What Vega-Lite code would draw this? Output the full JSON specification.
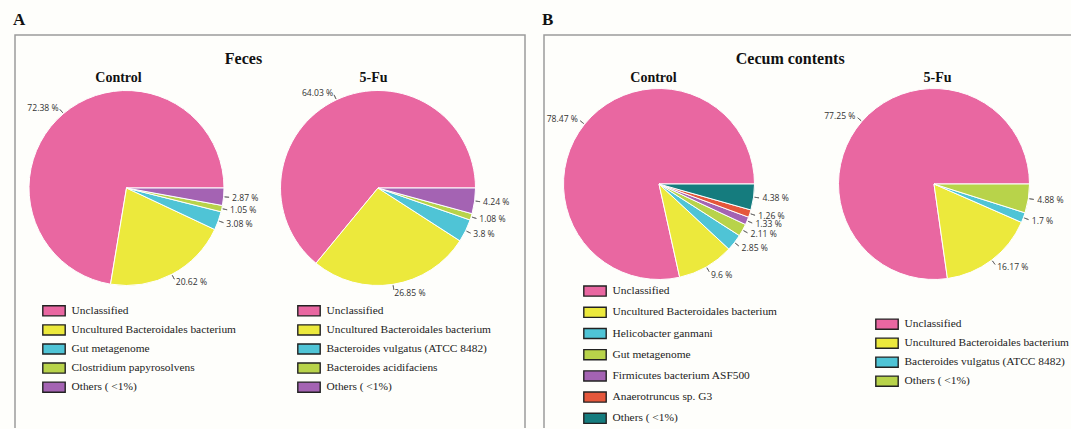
{
  "$schema": "https://vega.github.io/schema/vega-lite/v6.json",
  "background": "#fefefb",
  "padding": {"left": 12, "top": 10, "right": 0, "bottom": 0},
  "spacing": 15,
  "data": {
    "values": [
      {"sample": "Feces", "group": "Control", "taxon": "Unclassified", "pct": 72.38},
      {"sample": "Feces", "group": "Control", "taxon": "Uncultured Bacteroidales bacterium", "pct": 20.62},
      {"sample": "Feces", "group": "Control", "taxon": "Gut metagenome", "pct": 3.08},
      {"sample": "Feces", "group": "Control", "taxon": "Clostridium papyrosolvens", "pct": 1.05},
      {"sample": "Feces", "group": "Control", "taxon": "Others ( <1%)", "pct": 2.87},
      {"sample": "Feces", "group": "5-Fu", "taxon": "Unclassified", "pct": 64.03},
      {"sample": "Feces", "group": "5-Fu", "taxon": "Uncultured Bacteroidales bacterium", "pct": 26.85},
      {"sample": "Feces", "group": "5-Fu", "taxon": "Bacteroides vulgatus (ATCC 8482)", "pct": 3.8},
      {"sample": "Feces", "group": "5-Fu", "taxon": "Bacteroides acidifaciens", "pct": 1.08},
      {"sample": "Feces", "group": "5-Fu", "taxon": "Others ( <1%)", "pct": 4.24},
      {"sample": "Cecum contents", "group": "Control", "taxon": "Unclassified", "pct": 78.47},
      {"sample": "Cecum contents", "group": "Control", "taxon": "Uncultured Bacteroidales bacterium", "pct": 9.6},
      {"sample": "Cecum contents", "group": "Control", "taxon": "Helicobacter ganmani", "pct": 2.85},
      {"sample": "Cecum contents", "group": "Control", "taxon": "Gut metagenome", "pct": 2.11},
      {"sample": "Cecum contents", "group": "Control", "taxon": "Firmicutes bacterium ASF500", "pct": 1.33},
      {"sample": "Cecum contents", "group": "Control", "taxon": "Anaerotruncus sp. G3", "pct": 1.26},
      {"sample": "Cecum contents", "group": "Control", "taxon": "Others ( <1%)", "pct": 4.38},
      {"sample": "Cecum contents", "group": "5-Fu", "taxon": "Unclassified", "pct": 77.25},
      {"sample": "Cecum contents", "group": "5-Fu", "taxon": "Uncultured Bacteroidales bacterium", "pct": 16.17},
      {"sample": "Cecum contents", "group": "5-Fu", "taxon": "Bacteroides vulgatus (ATCC 8482)", "pct": 1.7},
      {"sample": "Cecum contents", "group": "5-Fu", "taxon": "Others ( <1%)", "pct": 4.88}
    ]
  },
  "resolve": {"scale": {"color": "independent", "theta": "independent"}},
  "hconcat": [
    {
      "width": 510,
      "height": 393,
      "title": {"text": "A"},
      "view": {"stroke": "#9c9c9c", "strokeWidth": 1.5, "strokeDash": [903, 510, 393]},
      "resolve": {"scale": {"color": "independent", "theta": "independent"}},
      "encoding": {
        "x": {
          "field": "group", "type": "nominal",
          "scale": {"type": "point", "domain": ["Control", "5-Fu"], "range": [111.5, 363], "padding": 0},
          "axis": {"orient": "top", "title": "Feces", "titleX": 228,
                   "labelOffset": {"condition": {"test": "datum.value === 'Control'", "value": -8.5}, "value": -5}}
        },
        "y": {"field": "sample", "type": "nominal", "scale": {"type": "point", "range": [0, 306]}, "axis": null}
      },
      "layer": [
        {
          "transform": [{"filter": "datum.sample === 'Feces' && datum.group === 'Control'"}, {"window": [{"op": "row_number", "as": "idx"}]}],
          "mark": {"type": "arc", "radius": 97.5, "stroke": "#ffffff", "strokeWidth": 1},
          "encoding": {
            "theta": {"field": "pct", "type": "quantitative", "stack": true, "scale": {"domain": [0, 100], "range": [7.853981633974483, 1.5707963267948966]}},
            "order": {"field": "idx", "type": "quantitative"},
            "color": {
              "field": "taxon", "type": "nominal",
              "scale": {"domain": ["Unclassified", "Uncultured Bacteroidales bacterium", "Gut metagenome", "Clostridium papyrosolvens", "Others ( <1%)"],
                        "range": ["#e967a1", "#ece93c", "#4fc4d6", "#b8d34a", "#a463b3"]},
              "legend": {"legendX": 30, "legendY": 266.8, "rowPadding": 2.1}
            }
          }
        },
        {
          "transform": [{"filter": "datum.sample === 'Feces' && datum.group === 'Control'"}, {"window": [{"op": "row_number", "as": "idx"}]}],
          "mark": {"type": "arc", "radius": 103, "radius2": 98.5, "padAngle": 3.1416, "filled": false, "stroke": "#666666", "strokeWidth": 0.8},
          "encoding": {
            "theta": {"field": "pct", "type": "quantitative", "stack": true, "scale": {"domain": [0, 100], "range": [7.853981633974483, 1.5707963267948966]}},
            "order": {"field": "idx", "type": "quantitative"},
            "strokeOpacity": {"condition": {"test": "datum.taxon === 'Unclassified'", "value": 0}, "value": 1}
          }
        },
        {
          "transform": [{"filter": "datum.sample === 'Feces' && datum.group === 'Control' && datum.taxon === 'Unclassified'"}],
          "mark": {"type": "arc", "radius": 103, "radius2": 98.5, "filled": false, "stroke": "#666666", "strokeWidth": 0.8},
          "encoding": {
            "theta": {"field": "pct", "type": "quantitative", "stack": null, "scale": {"domain": [0, 200], "range": [7.853981633974483, 1.5707963267948966]}},
            "theta2": {"field": "pct"}
          }
        },
        {
          "transform": [{"filter": "datum.sample === 'Feces' && datum.group === 'Control'"}, {"window": [{"op": "row_number", "as": "idx"}]}],
          "mark": {"type": "text", "radius": 106, "align": "left", "baseline": "middle"},
          "encoding": {
            "theta": {"field": "pct", "type": "quantitative", "stack": true, "scale": {"domain": [0, 100], "range": [7.853981633974483, 1.5707963267948966]}},
            "order": {"field": "idx", "type": "quantitative"},
            "text": {"condition": {"test": "datum.taxon === 'Unclassified'", "value": ""}, "field": "pct", "type": "quantitative", "format": "$.2~f"}
          }
        },
        {
          "transform": [{"filter": "datum.sample === 'Feces' && datum.group === 'Control' && datum.taxon === 'Unclassified'"}],
          "mark": {"type": "text", "radius": 105, "align": "right", "baseline": "middle"},
          "encoding": {
            "theta": {"field": "pct", "type": "quantitative", "stack": true, "scale": {"domain": [0, 100], "range": [7.853981633974483, 1.5707963267948966]}},
            "text": {"field": "pct", "type": "quantitative", "format": "$.2~f"}
          }
        },
        {
          "transform": [{"filter": "datum.sample === 'Feces' && datum.group === '5-Fu'"}, {"window": [{"op": "row_number", "as": "idx"}]}],
          "mark": {"type": "arc", "radius": 97.5, "stroke": "#ffffff", "strokeWidth": 1},
          "encoding": {
            "theta": {"field": "pct", "type": "quantitative", "stack": true, "scale": {"domain": [0, 100], "range": [7.853981633974483, 1.5707963267948966]}},
            "order": {"field": "idx", "type": "quantitative"},
            "color": {
              "field": "taxon", "type": "nominal",
              "scale": {"domain": ["Unclassified", "Uncultured Bacteroidales bacterium", "Bacteroides vulgatus (ATCC 8482)", "Bacteroides acidifaciens", "Others ( <1%)"],
                        "range": ["#e967a1", "#ece93c", "#4fc4d6", "#b8d34a", "#a463b3"]},
              "legend": {"legendX": 285, "legendY": 266.8, "rowPadding": 2.1}
            }
          }
        },
        {
          "transform": [{"filter": "datum.sample === 'Feces' && datum.group === '5-Fu'"}, {"window": [{"op": "row_number", "as": "idx"}]}],
          "mark": {"type": "arc", "radius": 103, "radius2": 98.5, "padAngle": 3.1416, "filled": false, "stroke": "#666666", "strokeWidth": 0.8},
          "encoding": {
            "theta": {"field": "pct", "type": "quantitative", "stack": true, "scale": {"domain": [0, 100], "range": [7.853981633974483, 1.5707963267948966]}},
            "order": {"field": "idx", "type": "quantitative"},
            "strokeOpacity": {"condition": {"test": "datum.taxon === 'Unclassified'", "value": 0}, "value": 1}
          }
        },
        {
          "transform": [{"filter": "datum.sample === 'Feces' && datum.group === '5-Fu' && datum.taxon === 'Unclassified'"}],
          "mark": {"type": "arc", "radius": 103, "radius2": 98.5, "filled": false, "stroke": "#666666", "strokeWidth": 0.8},
          "encoding": {
            "theta": {"field": "pct", "type": "quantitative", "stack": null, "scale": {"domain": [0, 200], "range": [7.853981633974483, 1.5707963267948966]}},
            "theta2": {"field": "pct"}
          }
        },
        {
          "transform": [{"filter": "datum.sample === 'Feces' && datum.group === '5-Fu'"}, {"window": [{"op": "row_number", "as": "idx"}]}],
          "mark": {"type": "text", "radius": 106, "align": "left", "baseline": "middle"},
          "encoding": {
            "theta": {"field": "pct", "type": "quantitative", "stack": true, "scale": {"domain": [0, 100], "range": [7.853981633974483, 1.5707963267948966]}},
            "order": {"field": "idx", "type": "quantitative"},
            "text": {"condition": {"test": "datum.taxon === 'Unclassified'", "value": ""}, "field": "pct", "type": "quantitative", "format": "$.2~f"}
          }
        },
        {
          "transform": [{"filter": "datum.sample === 'Feces' && datum.group === '5-Fu' && datum.taxon === 'Unclassified'"}],
          "mark": {"type": "text", "radius": 105, "align": "right", "baseline": "middle"},
          "encoding": {
            "theta": {"field": "pct", "type": "quantitative", "stack": true, "scale": {"domain": [0, 100], "range": [7.853981633974483, 1.5707963267948966]}},
            "text": {"field": "pct", "type": "quantitative", "format": "$.2~f"}
          }
        }
      ]
    },
    {
      "width": 530,
      "height": 393,
      "title": {"text": "B"},
      "view": {"stroke": "#9c9c9c", "strokeWidth": 1.5, "strokeDash": [530, 923, 393]},
      "resolve": {"scale": {"color": "independent", "theta": "independent"}},
      "encoding": {
        "x": {
          "field": "group", "type": "nominal",
          "scale": {"type": "point", "domain": ["Control", "5-Fu"], "range": [115, 390], "padding": 0},
          "axis": {"orient": "top", "title": "Cecum contents", "titleX": 245.7,
                   "labelOffset": {"condition": {"test": "datum.value === 'Control'", "value": -6}, "value": 3}}
        },
        "y": {"field": "sample", "type": "nominal", "scale": {"type": "point", "range": [0, 298]}, "axis": null}
      },
      "layer": [
        {
          "transform": [{"filter": "datum.sample === 'Cecum contents' && datum.group === 'Control'"}, {"window": [{"op": "row_number", "as": "idx"}]}],
          "mark": {"type": "arc", "radius": 95.5, "stroke": "#ffffff", "strokeWidth": 1},
          "encoding": {
            "theta": {"field": "pct", "type": "quantitative", "stack": true, "scale": {"domain": [0, 100], "range": [7.853981633974483, 1.5707963267948966]}},
            "order": {"field": "idx", "type": "quantitative"},
            "color": {
              "field": "taxon", "type": "nominal",
              "scale": {"domain": ["Unclassified", "Uncultured Bacteroidales bacterium", "Helicobacter ganmani", "Gut metagenome", "Firmicutes bacterium ASF500", "Anaerotruncus sp. G3", "Others ( <1%)"],
                        "range": ["#e967a1", "#ece93c", "#4fc4d6", "#b8d34a", "#a463b3", "#e5573b", "#157c7e"]},
              "legend": {"legendX": 42, "legendY": 247.1, "rowPadding": 4.2}
            }
          }
        },
        {
          "transform": [{"filter": "datum.sample === 'Cecum contents' && datum.group === 'Control'"}, {"window": [{"op": "row_number", "as": "idx"}]}],
          "mark": {"type": "arc", "radius": 101, "radius2": 96.5, "padAngle": 3.1416, "filled": false, "stroke": "#666666", "strokeWidth": 0.8},
          "encoding": {
            "theta": {"field": "pct", "type": "quantitative", "stack": true, "scale": {"domain": [0, 100], "range": [7.853981633974483, 1.5707963267948966]}},
            "order": {"field": "idx", "type": "quantitative"},
            "strokeOpacity": {"condition": {"test": "datum.taxon === 'Unclassified'", "value": 0}, "value": 1}
          }
        },
        {
          "transform": [{"filter": "datum.sample === 'Cecum contents' && datum.group === 'Control' && datum.taxon === 'Unclassified'"}],
          "mark": {"type": "arc", "radius": 101, "radius2": 96.5, "filled": false, "stroke": "#666666", "strokeWidth": 0.8},
          "encoding": {
            "theta": {"field": "pct", "type": "quantitative", "stack": null, "scale": {"domain": [0, 200], "range": [7.853981633974483, 1.5707963267948966]}},
            "theta2": {"field": "pct"}
          }
        },
        {
          "transform": [{"filter": "datum.sample === 'Cecum contents' && datum.group === 'Control'"}, {"window": [{"op": "row_number", "as": "idx"}]}],
          "mark": {"type": "text", "radius": 104.5, "align": "left", "baseline": "middle"},
          "encoding": {
            "theta": {"field": "pct", "type": "quantitative", "stack": true, "scale": {"domain": [0, 100], "range": [7.853981633974483, 1.5707963267948966]}},
            "order": {"field": "idx", "type": "quantitative"},
            "text": {"condition": {"test": "datum.taxon === 'Unclassified'", "value": ""}, "field": "pct", "type": "quantitative", "format": "$.2~f"}
          }
        },
        {
          "transform": [{"filter": "datum.sample === 'Cecum contents' && datum.group === 'Control' && datum.taxon === 'Unclassified'"}],
          "mark": {"type": "text", "radius": 104, "align": "right", "baseline": "middle"},
          "encoding": {
            "theta": {"field": "pct", "type": "quantitative", "stack": true, "scale": {"domain": [0, 100], "range": [7.853981633974483, 1.5707963267948966]}},
            "text": {"field": "pct", "type": "quantitative", "format": "$.2~f"}
          }
        },
        {
          "transform": [{"filter": "datum.sample === 'Cecum contents' && datum.group === '5-Fu'"}, {"window": [{"op": "row_number", "as": "idx"}]}],
          "mark": {"type": "arc", "radius": 95.5, "stroke": "#ffffff", "strokeWidth": 1},
          "encoding": {
            "theta": {"field": "pct", "type": "quantitative", "stack": true, "scale": {"domain": [0, 100], "range": [7.853981633974483, 1.5707963267948966]}},
            "order": {"field": "idx", "type": "quantitative"},
            "color": {
              "field": "taxon", "type": "nominal",
              "scale": {"domain": ["Unclassified", "Uncultured Bacteroidales bacterium", "Bacteroides vulgatus (ATCC 8482)", "Others ( <1%)"],
                        "range": ["#e967a1", "#ece93c", "#4fc4d6", "#b8d34a"]},
              "legend": {"legendX": 334, "legendY": 280.2, "rowPadding": 2}
            }
          }
        },
        {
          "transform": [{"filter": "datum.sample === 'Cecum contents' && datum.group === '5-Fu'"}, {"window": [{"op": "row_number", "as": "idx"}]}],
          "mark": {"type": "arc", "radius": 101, "radius2": 96.5, "padAngle": 3.1416, "filled": false, "stroke": "#666666", "strokeWidth": 0.8},
          "encoding": {
            "theta": {"field": "pct", "type": "quantitative", "stack": true, "scale": {"domain": [0, 100], "range": [7.853981633974483, 1.5707963267948966]}},
            "order": {"field": "idx", "type": "quantitative"},
            "strokeOpacity": {"condition": {"test": "datum.taxon === 'Unclassified'", "value": 0}, "value": 1}
          }
        },
        {
          "transform": [{"filter": "datum.sample === 'Cecum contents' && datum.group === '5-Fu' && datum.taxon === 'Unclassified'"}],
          "mark": {"type": "arc", "radius": 101, "radius2": 96.5, "filled": false, "stroke": "#666666", "strokeWidth": 0.8},
          "encoding": {
            "theta": {"field": "pct", "type": "quantitative", "stack": null, "scale": {"domain": [0, 200], "range": [7.853981633974483, 1.5707963267948966]}},
            "theta2": {"field": "pct"}
          }
        },
        {
          "transform": [{"filter": "datum.sample === 'Cecum contents' && datum.group === '5-Fu'"}, {"window": [{"op": "row_number", "as": "idx"}]}],
          "mark": {"type": "text", "radius": 104.5, "align": "left", "baseline": "middle"},
          "encoding": {
            "theta": {"field": "pct", "type": "quantitative", "stack": true, "scale": {"domain": [0, 100], "range": [7.853981633974483, 1.5707963267948966]}},
            "order": {"field": "idx", "type": "quantitative"},
            "text": {"condition": {"test": "datum.taxon === 'Unclassified'", "value": ""}, "field": "pct", "type": "quantitative", "format": "$.2~f"}
          }
        },
        {
          "transform": [{"filter": "datum.sample === 'Cecum contents' && datum.group === '5-Fu' && datum.taxon === 'Unclassified'"}],
          "mark": {"type": "text", "radius": 104, "align": "right", "baseline": "middle"},
          "encoding": {
            "theta": {"field": "pct", "type": "quantitative", "stack": true, "scale": {"domain": [0, 100], "range": [7.853981633974483, 1.5707963267948966]}},
            "text": {"field": "pct", "type": "quantitative", "format": "$.2~f"}
          }
        }
      ]
    }
  ],
  "config": {
    "font": "Liberation Serif",
    "locale": {"number": {"decimal": ".", "thousands": ",", "grouping": [3], "currency": ["", " %"]}},
    "text": {"font": "Open Sans", "fontSize": 8.6, "color": "#333333"},
    "title": {"anchor": "start", "frame": "group", "font": "Liberation Serif", "fontSize": 17, "fontWeight": "bold", "color": "#111111", "dx": -2, "offset": 6},
    "axis": {
      "domain": false, "ticks": false, "grid": false, "offset": -48.5, "labelAngle": 0,
      "labelFont": "Liberation Serif", "labelFontWeight": "bold", "labelFontSize": 14, "labelColor": "#111111",
      "labelBaseline": "alphabetic", "labelPadding": 2,
      "titleFont": "Liberation Serif", "titleFontWeight": "bold", "titleFontSize": 16, "titleColor": "#111111",
      "titleBaseline": "alphabetic", "titleAlign": "center", "titleY": -20.5
    },
    "legend": {
      "orient": "none", "title": null, "padding": 0,
      "symbolType": "M-1.4,-0.63H1.4V0.63H-1.4Z", "symbolSize": 256,
      "symbolStrokeColor": "#222222", "symbolStrokeWidth": 1.4, "symbolOpacity": 1,
      "labelFont": "Liberation Serif", "labelFontSize": 11.4, "labelColor": "#222222",
      "labelLimit": 300, "labelOffset": 8.5
    }
  }
}
